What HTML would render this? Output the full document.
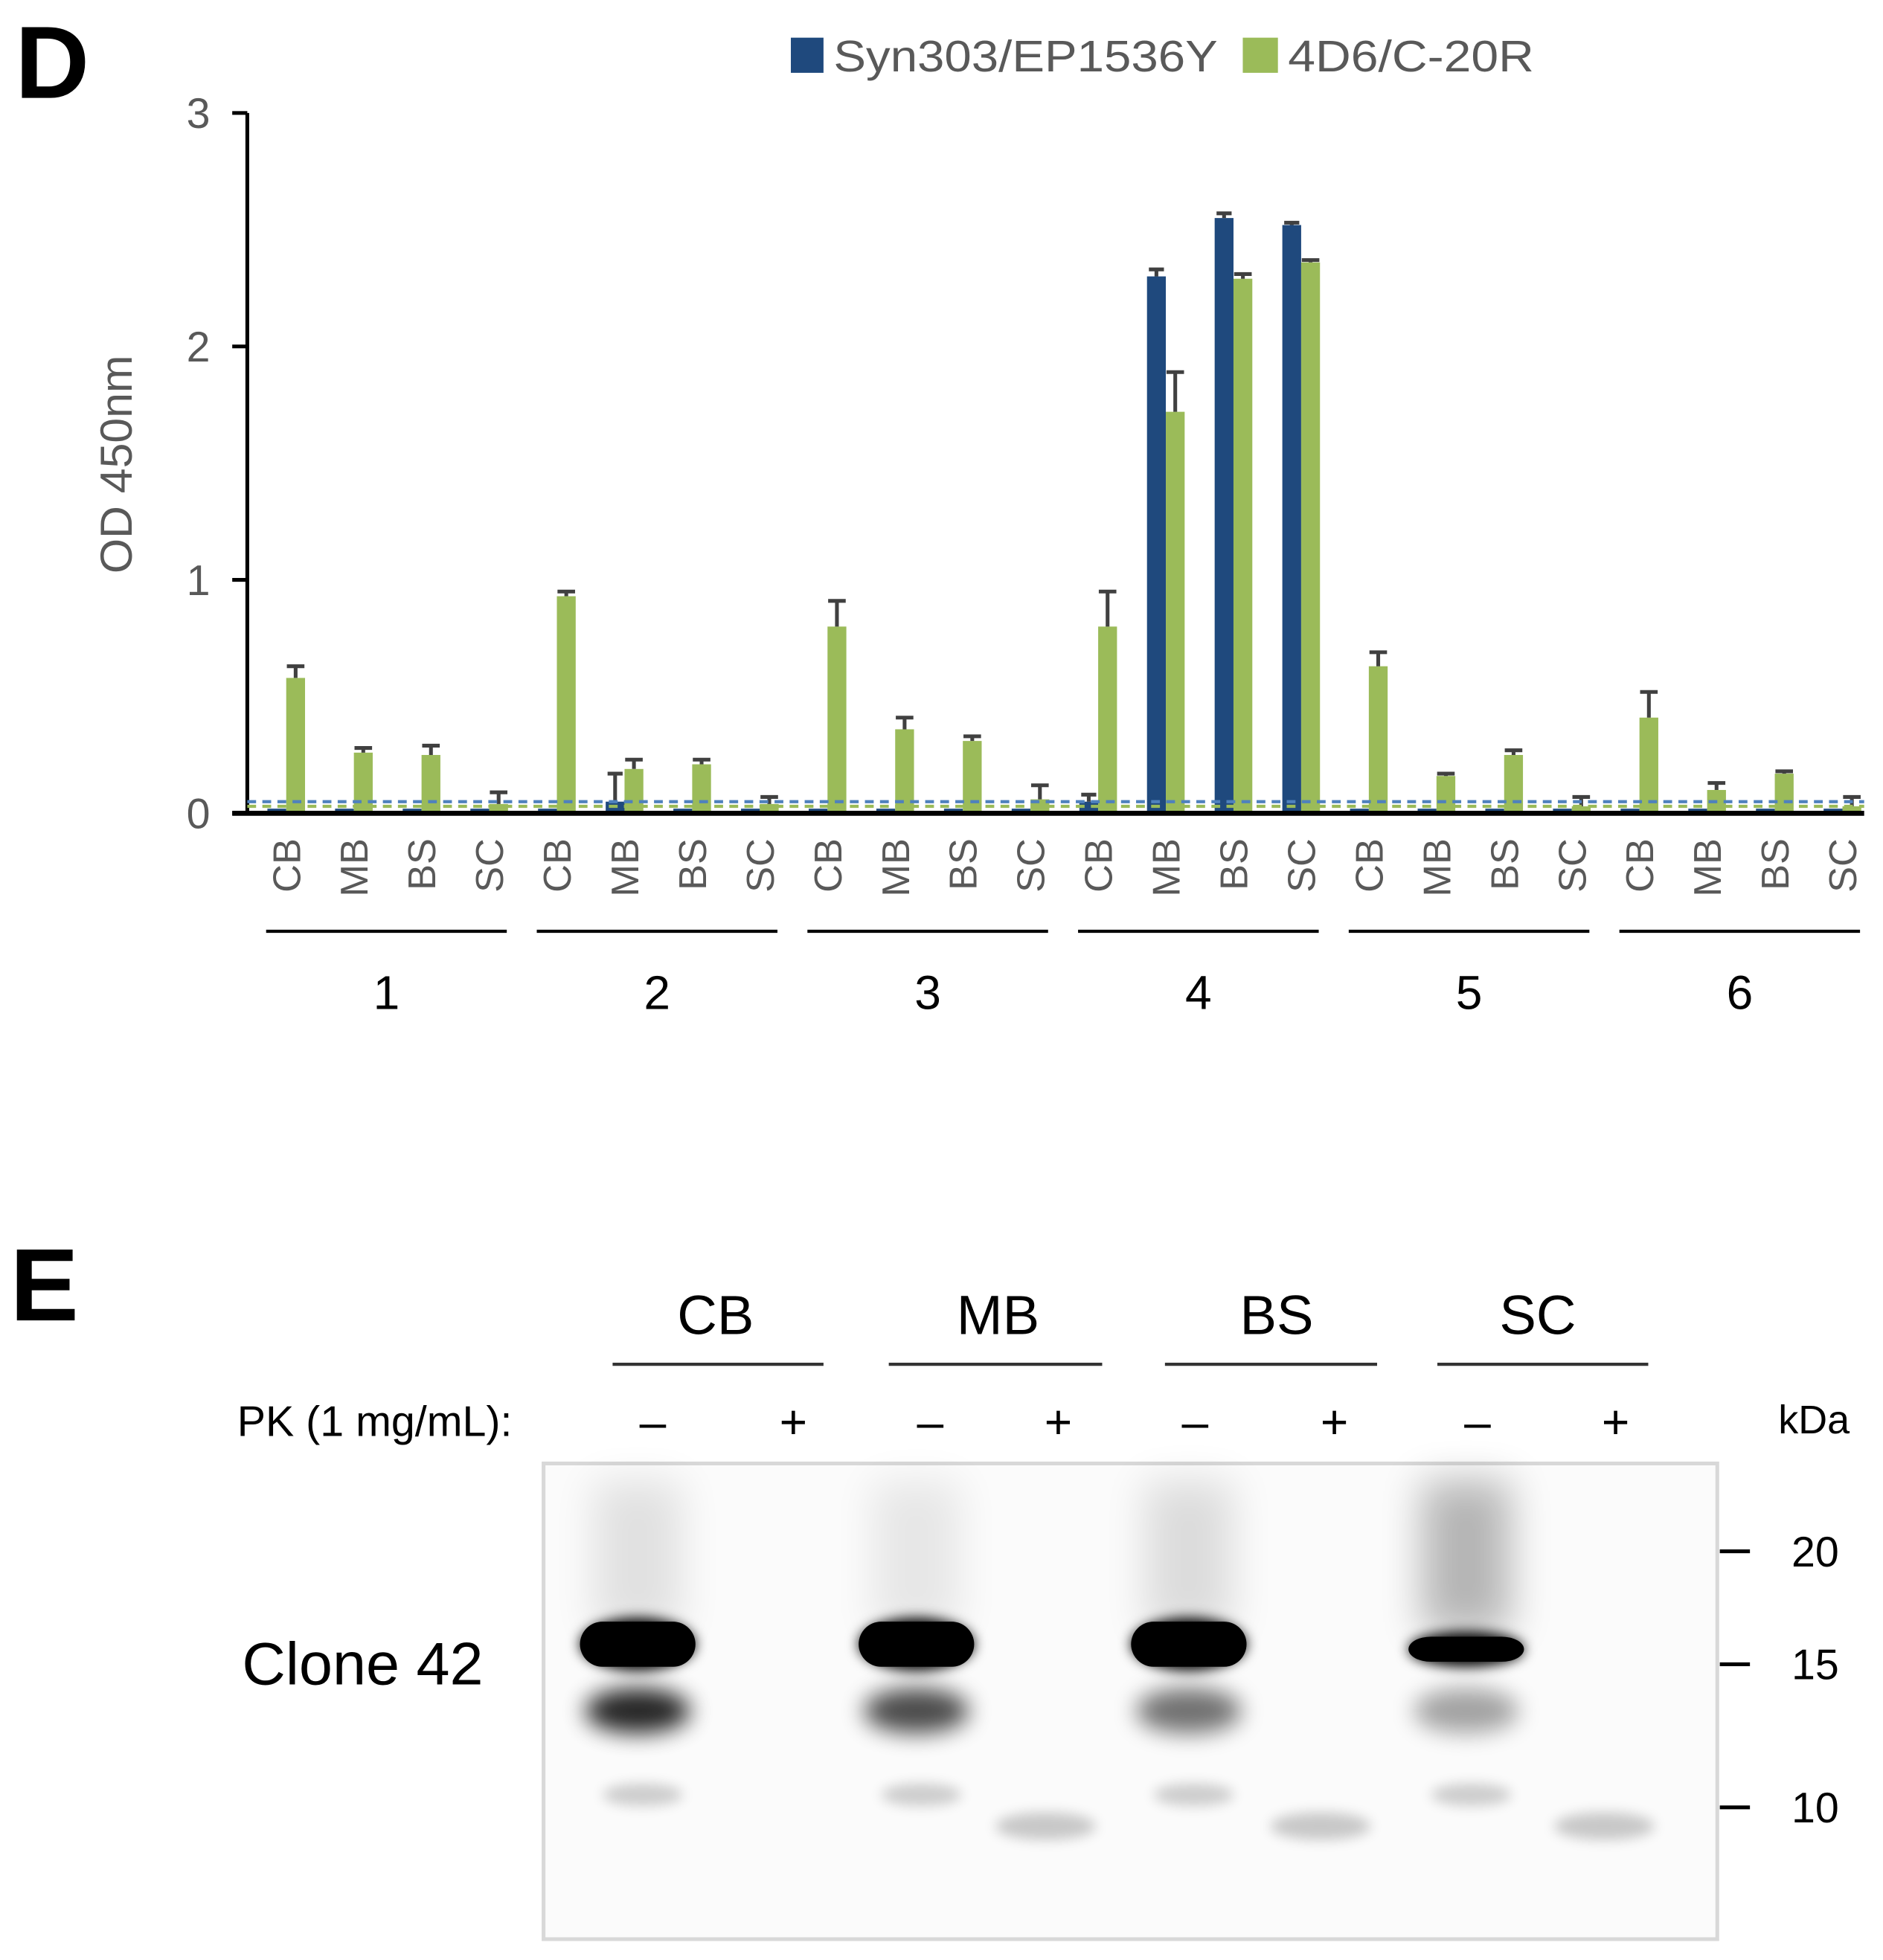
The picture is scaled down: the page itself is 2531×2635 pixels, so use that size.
<!DOCTYPE html>
<html><head><meta charset="utf-8">
<style>
html,body{margin:0;padding:0;background:#fff;}
svg{display:block;font-family:"Liberation Sans",sans-serif;}
</style></head>
<body>
<svg id="fig" width="2531" height="2635" viewBox="0 0 1500 1561.6" xmlns="http://www.w3.org/2000/svg">
<defs>
<filter id="b4" x="-50%" y="-100%" width="200%" height="300%"><feGaussianBlur stdDeviation="5"/></filter>
<filter id="b8" x="-50%" y="-100%" width="200%" height="300%"><feGaussianBlur stdDeviation="9"/></filter>
<filter id="b14" x="-50%" y="-50%" width="200%" height="200%"><feGaussianBlur stdDeviation="16"/></filter>
</defs>
<text x="12" y="78" font-size="82" font-weight="bold">D</text>
<g>
<rect x="630" y="30" width="26" height="28" fill="#1f497d"/>
<text x="664" y="57" font-size="35" fill="#595959" textLength="306" lengthAdjust="spacingAndGlyphs">Syn303/EP1536Y</text>
<rect x="990" y="30" width="28" height="28" fill="#9bbb59"/>
<text x="1026" y="57" font-size="35" fill="#595959" textLength="196" lengthAdjust="spacingAndGlyphs">4D6/C-20R</text>
</g>
<text transform="translate(105,370) rotate(-90)" text-anchor="middle" font-size="36" fill="#595959">OD 450nm</text>
<g id="chart"></g>
<text x="8" y="1052" font-size="82" font-weight="bold">E</text>
<g id="blot"></g>
</svg>
<script>
const groups = ["1","2","3","4","5","6"];
const regions = ["CB","MB","BS","SC"];
const synValues = [0.02,0.02,0.02,0.02, 0.02,0.05,0.02,0.02, 0.02,0.02,0.02,0.02, 0.05,2.30,2.55,2.52, 0.02,0.02,0.02,0.02, 0.02,0.02,0.02,0.02];
const synErr = [0,0,0,0, 0,0.12,0,0, 0,0,0,0, 0.03,0.03,0.02,0.01, 0,0,0,0, 0,0,0,0];
const d4Values = [0.58,0.26,0.25,0.04, 0.93,0.19,0.21,0.04, 0.80,0.36,0.31,0.06, 0.80,1.72,2.29,2.36, 0.63,0.16,0.25,0.03, 0.41,0.10,0.17,0.03];
const d4Err = [0.05,0.02,0.04,0.05, 0.02,0.04,0.02,0.03, 0.11,0.05,0.02,0.06, 0.15,0.17,0.02,0.01, 0.06,0.01,0.02,0.04, 0.11,0.03,0.01,0.04];
const yTicks = [0,1,2,3];
const synCutoff = 0.05, d4Cutoff = 0.03;

const NS="http://www.w3.org/2000/svg";
function mk(tag, attrs, parent, txt){const e=document.createElementNS(NS,tag);for(const k in attrs)e.setAttribute(k,attrs[k]);if(txt!==undefined)e.textContent=txt;parent.appendChild(e);return e;}
const chart=document.getElementById('chart');
const y0=648, yTop=90, yMax=3, axX=197;
const yS=v=>y0-(v/yMax)*(y0-yTop);
const xC=i=>228+i*53.9;
const bw=15;

let ax=mk('line',{x1:axX,y1:yTop,x2:axX,y2:y0,stroke:'#000','stroke-width':3},chart);


yTicks.forEach(t=>{
  const tk=mk('line',{x1:axX-12,y1:yS(t),x2:axX,y2:yS(t),stroke:'#000','stroke-width':3},chart);
  
  
  const tl=mk('text',{x:158,y:yS(t)+12,'text-anchor':'middle','font-size':34,fill:'#595959'},chart,String(t));
  
  
});

const n=groups.length*regions.length;
for(let i=0;i<n;i++){
  const c=xC(i);
  const sb=mk('rect',{x:c-bw,y:yS(synValues[i]),width:bw,height:y0-yS(synValues[i]),fill:'#1f497d'},chart);
  
  
  if(synErr[i]>0){
    const top=yS(synValues[i]+synErr[i]);
    const e1=mk('path',{d:`M${c-bw/2},${yS(synValues[i])}V${top}M${c-bw/2-6},${top}H${c-bw/2+6}`,stroke:'#404040','stroke-width':3,fill:'none'},chart);
    
    
  }
  const gb=mk('rect',{x:c,y:yS(d4Values[i]),width:bw,height:y0-yS(d4Values[i]),fill:'#9bbb59'},chart);
  
  
  const top2=yS(d4Values[i]+d4Err[i]);
  const e2=mk('path',{d:`M${c+bw/2},${yS(d4Values[i])}V${top2}M${c+bw/2-7},${top2}H${c+bw/2+7}`,stroke:'#404040','stroke-width':3,fill:'none'},chart);
  
  
  const lab=mk('text',{transform:`translate(${c+11},${668}) rotate(-90)`,'text-anchor':'end','font-size':31,fill:'#595959'},chart,regions[i%4]);
  
  
}
const dl1=mk('line',{x1:axX,y1:yS(synCutoff),x2:1485,y2:yS(synCutoff),stroke:'#4f81bd','stroke-width':2.5,'stroke-dasharray':'7,5'},chart);


const dl2=mk('line',{x1:axX,y1:yS(d4Cutoff),x2:1485,y2:yS(d4Cutoff),stroke:'#9bbb59','stroke-width':2.5,'stroke-dasharray':'7,5'},chart);


const xa=mk('line',{x1:185,y1:y0,x2:1485,y2:y0,stroke:'#000','stroke-width':4},chart);


groups.forEach((g,k)=>{
  const a=xC(k*4)-16, b=xC(k*4+3)+14;
  const ul=mk('line',{x1:a,y1:742,x2:b,y2:742,stroke:'#000','stroke-width':2.5},chart);
  
  
  const gl=mk('text',{x:(a+b)/2,y:804,'text-anchor':'middle','font-size':38},chart,g);
  
  
});

const blot=document.getElementById('blot');
const lanes=["CB","MB","BS","SC"];
const laneX=[570,795,1017,1225];
const ulx=[[488,656],[708,878],[928,1097],[1145,1313]];
lanes.forEach((l,k)=>{
  const t=mk('text',{x:laneX[k],y:1063,'text-anchor':'middle','font-size':44},blot,l);
  
  
  const u=mk('line',{x1:ulx[k][0],y1:1087,x2:ulx[k][1],y2:1087,stroke:'#333','stroke-width':2.5},blot);
  
  
});
const pk=mk('text',{x:408,y:1144,'text-anchor':'end','font-size':34},blot,'PK (1 mg/mL):');


const signs=['–','+','–','+','–','+','–','+'];
const signX=[520,632,741,843,952,1063,1177,1287];
signs.forEach((s,k)=>{
  const t=mk('text',{x:signX[k],y:1146,'text-anchor':'middle','font-size':38},blot,s);
  
  
});
const kda=mk('text',{x:1445,y:1142,'text-anchor':'middle','font-size':32},blot,'kDa');


const box=mk('rect',{x:433,y:1166,width:935,height:379,fill:'#fbfbfb',stroke:'#d8d8d8','stroke-width':3},blot);


const minusX=[508,730,947,1168], plusX=[833,1052,1278];
const smearOp=[0.10,0.08,0.12,0.28];
minusX.forEach((x,k)=>{
  const sm=mk('rect',{x:x-35,y:1180,width:70,height:120,fill:'#000',opacity:smearOp[k],filter:'url(#b14)'},blot);
  
  
  const b2=mk('ellipse',{cx:x,cy:1363,rx:42,ry:18,fill:'#000',opacity:[0.85,0.7,0.55,0.35][k],filter:'url(#b8)'},blot);
  
  
  const b3=mk('ellipse',{cx:x+4,cy:1430,rx:32,ry:9,fill:'#000',opacity:0.18,filter:'url(#b4)'},blot);
  
  
  const b1=mk('ellipse',{cx:x,cy:k===3?1314:1310,rx:46,ry:k===3?14:21,fill:'#000',filter:'url(#b4)'},blot);
  
  
  const b1c=mk('rect',{x:x-46,y:k===3?1304:1292,width:92,height:k===3?20:36,rx:18,fill:'#000'},blot);
  
  
});
plusX.forEach(x=>{
  const b=mk('ellipse',{cx:x,cy:1455,rx:40,ry:11,fill:'#000',opacity:0.2,filter:'url(#b4)'},blot);
  
  
});
const clone=mk('text',{x:385,y:1342,'text-anchor':'end','font-size':48},blot,'Clone 42');


const markers=['20','15','10'];
const markerY=[1236,1326,1440];
markers.forEach((m,k)=>{
  const tk=mk('line',{x1:1370,y1:markerY[k],x2:1394,y2:markerY[k],stroke:'#000','stroke-width':3},blot);
  
  
  const t=mk('text',{x:1446,y:markerY[k]+12,'text-anchor':'middle','font-size':34},blot,m);
  
  
});
</script>
</body></html>
